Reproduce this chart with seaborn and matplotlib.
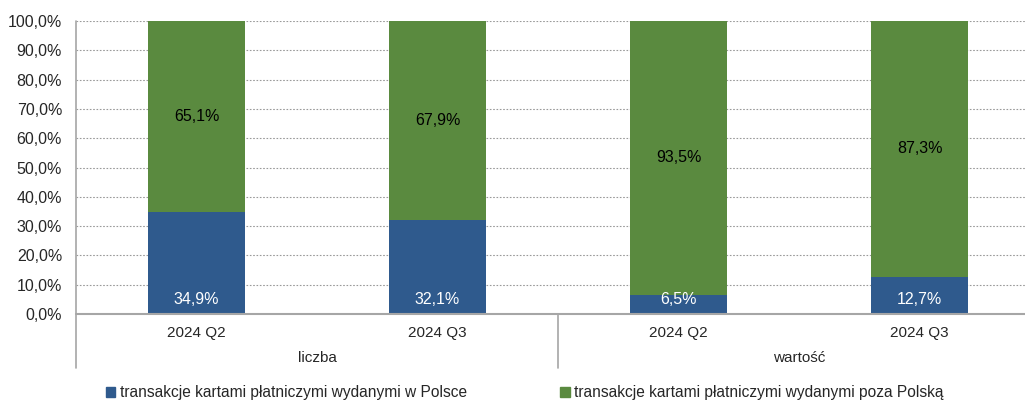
import pandas as pd
import seaborn as sns
import matplotlib.pyplot as plt
from matplotlib.patches import Patch
from matplotlib import transforms

groups = ['liczba', 'liczba', 'wartość', 'wartość']
quarters = ['2024 Q2', '2024 Q3', '2024 Q2', '2024 Q3']
w_polsce = [34.9, 32.1, 6.5, 12.7]
poza_polska = [65.1, 67.9, 93.5, 87.3]
group_names = ['liczba', 'wartość']
legend_labels = ['transakcje kartami płatniczymi wydanymi w Polsce',
                 'transakcje kartami płatniczymi wydanymi poza Polską']

blue = '#2F5A8D'
green = '#5A8A3F'

df = pd.DataFrame({'grupa': groups, 'kwartal': quarters,
                   'polska': w_polsce, 'poza': poza_polska})
df['klucz'] = df['grupa'] + ' ' + df['kwartal']
df['suma'] = df['polska'] + df['poza']

sns.set_style('white')
plt.rcParams['font.family'] = ['Liberation Sans', 'DejaVu Sans']

fig = plt.figure(figsize=(10.25, 4.01), dpi=100)
ax = fig.add_axes([76/1025, 87/401, 949/1025, 293/401])

# slupki: najpierw calosc (zielony), potem czesc krajowa (niebieski)
sns.barplot(data=df, x='klucz', y='suma', color=green, width=0.4,
            saturation=1, ax=ax, zorder=3, linewidth=0)
sns.barplot(data=df, x='klucz', y='polska', color=blue, width=0.4,
            saturation=1, ax=ax, zorder=3, linewidth=0)

ax.set_xlim(-0.5, -0.5 + 949/241)
ax.set_ylim(0, 100)
ax.set_yticks(range(0, 101, 10))
ax.set_yticklabels([f'{v:.1f}%'.replace('.', ',') for v in range(0, 101, 10)],
                   fontsize=11.5)
ax.tick_params(axis='y', length=0, pad=10)
ax.set_xticks([])
ax.set_xlabel('')
ax.set_ylabel('')
ax.yaxis.grid(True, linestyle=(0, (1.5, 1.5)), color='#9A9A9A', linewidth=0.8, zorder=0)
for s in ax.spines.values():
    s.set_visible(False)

# etykiety wartosci
for i in range(len(df)):
    ax.text(i, w_polsce[i] + poza_polska[i] / 2, f'{poza_polska[i]:.1f}%'.replace('.', ','),
            ha='center', va='center', fontsize=11.5, color='black', zorder=5)
    ax.annotate(f'{w_polsce[i]:.1f}%'.replace('.', ','), (i, 0), xytext=(0, 14),
                textcoords='offset pixels', ha='center', va='center',
                fontsize=11.5, color='white', zorder=5)

# os x z dwoma poziomami
trans = transforms.blended_transform_factory(ax.transData, ax.transAxes)
ax.plot([-0.5, 3.6], [0, 0], transform=trans, color='#A6A6A6', lw=1.5, clip_on=False, zorder=4)
for xs in [-0.5, 1.5]:
    ax.plot([xs, xs], [1, -0.184] if xs == -0.5 else [0, -0.184], transform=trans,
            color='#A6A6A6', lw=1.2, clip_on=False, zorder=4)
for i, q in enumerate(quarters):
    ax.text(i, -0.065, q, transform=trans, ha='center', va='center', fontsize=11)
for j, g in enumerate(group_names):
    ax.text(2 * j + 0.5, -0.150, g, transform=trans, ha='center', va='center', fontsize=11)

handles = [Patch(color=blue), Patch(color=green)]
fig.legend(handles, legend_labels, loc='center', bbox_to_anchor=(525/1025, 1 - 393/401),
           ncol=2, frameon=False, fontsize=11.2, handlelength=0.6, handleheight=0.6,
           handletextpad=0.3, columnspacing=6.0)

fig.savefig('out.png', dpi=100)
